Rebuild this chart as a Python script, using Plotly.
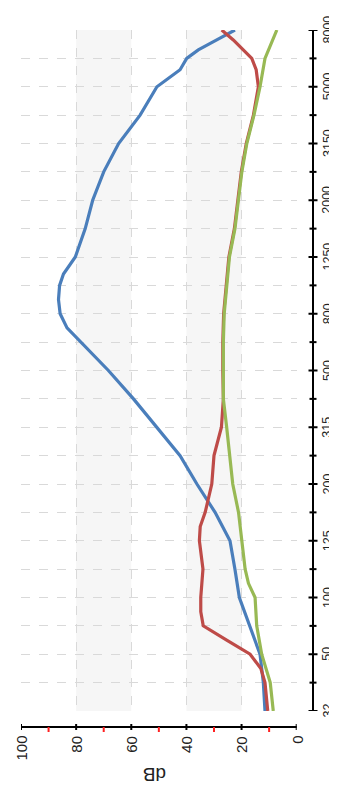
import plotly.graph_objects as go

# frequency band positions (index along the frequency axis) and their labels
freq_labels = ["32", "50", "100", "125", "200", "315", "500", "800",
               "1250", "2000", "3150", "5000", "8000"]
label_pos = list(range(0, 25, 2))
all_pos = list(range(25))

blue_pos = [0, 1, 2, 3, 4, 5, 6, 7, 8, 9, 10, 11, 12, 13, 13.5, 14, 14.5, 15, 15.4,
            16, 17, 18, 19, 20, 21, 22, 22.6, 23, 23.3, 23.65, 24]
blue_db = [11.5, 12.1, 13.3, 16.9, 20.8, 22.4, 24.2, 29.6, 36.2, 42.3, 50.7, 59.2,
           68.3, 78.5, 83.3, 85.8, 86.4, 86.0, 84.6, 80.3, 76.7, 74.0, 70.0, 64.6,
           56.8, 50.7, 42.3, 39.9, 35.7, 29.0, 22.4]

red_pos = [0, 1, 1.5, 2, 2.5, 3, 3.5, 4, 5, 6, 6.5, 7, 8, 9, 10, 11, 12, 13, 14, 15,
           16, 17, 18, 19, 20, 21, 22, 22.6, 23, 23.65, 24]
red_db = [10.5, 11.5, 13.0, 16.9, 25.4, 33.9, 34.8, 34.8, 34.0, 35.3, 35.0, 33.2,
          30.8, 30.0, 27.3, 26.6, 26.8, 26.8, 26.5, 25.6, 24.6, 22.6, 21.3, 20.1,
          18.3, 15.7, 13.9, 14.7, 16.3, 23.0, 27.2]

green_pos = [0, 1, 2, 3, 4, 4.5, 5, 6, 7, 8, 9, 10, 11, 12, 13, 14, 15, 16, 17, 18,
             19, 20, 21, 22, 23, 24]
green_db = [8.5, 9.6, 12.7, 14.5, 15.1, 17.5, 18.7, 19.9, 21.1, 23.2, 24.2, 25.4,
            26.6, 26.6, 26.6, 26.3, 25.4, 24.4, 22.4, 21.1, 19.9, 18.1, 15.5, 13.3,
            11.5, 7.2]

db_ticks = [0, 20, 40, 60, 80, 100]
db_minor = [10, 30, 50, 70, 90]
bands = [(80, 60), (40, 20)]

# the page body adds an 8px offset; work in page pixels converted to figure space
OFF = 8
W, H = 337 - OFF, 787 - OFF
ML, MR, MT, MB = 21 - OFF, 6, 30 - OFF, 40
PW, PH = W - MR - ML, H - MB - MT
paper_left_pg = ML + OFF
paper_bottom_pg = H - MB + OFF


def px_x(page_x):
    return (page_x - paper_left_pg) / PW


def px_y(page_y):
    return (paper_bottom_pg - page_y) / PH


xdom = [0, px_x(296.7)]
ydom = [px_y(711), 1]
freq_axis_x = px_x(313)
db_axis_y = px_y(727)

BLUE, RED, GREEN = "#4a7ebb", "#be4b48", "#98b954"
GRID = "#d9d9d9"
FONT = "Liberation Sans"

fig = go.Figure()
fig.add_trace(go.Scatter(x=blue_db, y=blue_pos, mode="lines",
                         line=dict(color=BLUE, width=3.2), showlegend=False))
fig.add_trace(go.Scatter(x=red_db, y=red_pos, mode="lines",
                         line=dict(color=RED, width=3.2), showlegend=False))
fig.add_trace(go.Scatter(x=green_db, y=green_pos, mode="lines",
                         line=dict(color=GREEN, width=3.2), showlegend=False))

for a, b in bands:
    fig.add_shape(type="rect", xref="x", yref="y domain", x0=a, x1=b, y0=0, y1=1,
                  fillcolor="#f6f6f6", line=dict(width=0), layer="below")

# axis lines (offset from the plotting area)
fig.add_shape(type="line", xref="paper", yref="paper", x0=xdom[0], x1=xdom[1],
              y0=db_axis_y, y1=db_axis_y, line=dict(color="black", width=2), layer="above")
fig.add_shape(type="line", xref="paper", yref="paper", x0=freq_axis_x, x1=freq_axis_x,
              y0=ydom[0], y1=ydom[1], line=dict(color="black", width=2), layer="above")

# crossing tick marks placed through the axes' own scales
for v in db_ticks:
    fig.add_shape(type="line", xref="x", yref="paper", x0=v, x1=v,
                  y0=db_axis_y - 3 / PH, y1=db_axis_y + 3 / PH,
                  line=dict(color="black", width=2), layer="above")
for v in db_minor:
    fig.add_shape(type="line", xref="x", yref="paper", x0=v, x1=v,
                  y0=db_axis_y, y1=db_axis_y - 5 / PH,
                  line=dict(color="#ff2020", width=2), layer="above")
for v in all_pos:
    half = 4.5 if v % 2 == 0 else 3.5
    fig.add_shape(type="line", xref="paper", yref="y",
                  x0=freq_axis_x - half / PW, x1=freq_axis_x + half / PW,
                  y0=v, y1=v, line=dict(color="black", width=2), layer="above")

annotations = [dict(text=lab, xref="paper", yref="y", x=px_x(327.5), y=p,
                    xanchor="center", yanchor="middle", showarrow=False, textangle=-90,
                    font=dict(size=12.5, family=FONT, color="#222"))
               for p, lab in zip(label_pos, freq_labels)]
annotations += [dict(text=str(v), xref="x", yref="paper", x=v, y=px_y(734),
                     xanchor="center", yanchor="top", showarrow=False, textangle=-90,
                     font=dict(size=15, family=FONT, color="#222"))
                for v in db_ticks]
annotations.append(dict(text="dB", xref="paper", yref="paper", x=px_x(155),
                        y=px_y(775), xanchor="center", yanchor="middle",
                        showarrow=False, textangle=180,
                        font=dict(size=19, family=FONT, color="#222")))

fig.update_layout(
    width=W, height=H,
    margin=dict(l=ML, r=MR, t=MT, b=MB, autoexpand=False),
    paper_bgcolor="white", plot_bgcolor="white",
    font=dict(family=FONT, color="#222"),
    xaxis=dict(domain=xdom, anchor="free", position=0, range=[100, 0], automargin=False,
               tickmode="array", tickvals=db_ticks, showticklabels=False,
               showline=False, ticks="",
               showgrid=True, gridcolor=GRID, griddash="dash", gridwidth=1,
               zeroline=False),
    yaxis=dict(domain=ydom, anchor="free", position=freq_axis_x, side="right",
               range=[0, 24], automargin=False, showticklabels=False,
               tickmode="array", tickvals=label_pos,
               showline=True, linecolor="black", linewidth=2, ticks="",
               showgrid=True, gridcolor=GRID, griddash="dash", gridwidth=1,
               zeroline=False,
               minor=dict(tickmode="array", tickvals=all_pos, ticks="",
                          showgrid=True, gridcolor=GRID, griddash="dash", gridwidth=1)),
    annotations=annotations,
)

fig.write_html("out.html")
